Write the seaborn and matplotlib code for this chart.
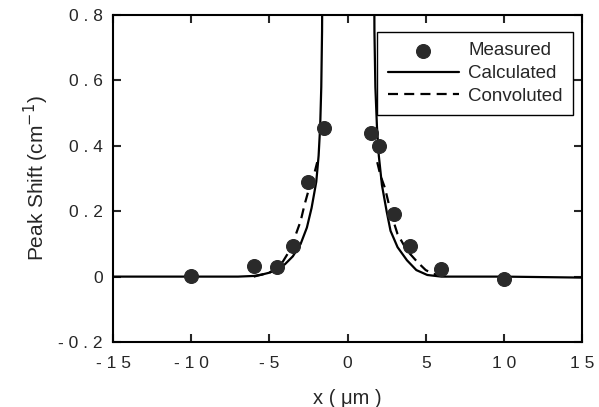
import numpy as np
import pandas as pd
import matplotlib
matplotlib.use("Agg")
import matplotlib.pyplot as plt
import seaborn as sns

# measured points
meas_x = [-10, -6.0, -4.5, -3.5, -2.5, -1.5, 1.5, 2.0, 3.0, 4.0, 6.0, 10]
meas_y = [0.003, 0.033, 0.030, 0.094, 0.29, 0.455, 0.44, 0.40, 0.19, 0.094, 0.024, -0.006]

# calculated curve
calc_x = [-15, -10, -7, -6, -5.5, -5, -4.5, -4, -3.5, -3, -2.6, -2.3, -2.0, -1.85, -1.75, -1.68, -1.63, -1.6]
calc_y = [0.0, 0.0, 0.0, 0.002, 0.006, 0.012, 0.022, 0.038, 0.062, 0.10, 0.15, 0.21, 0.29, 0.37, 0.46, 0.58, 0.75, 1.0]
calc_x_r = [1.7, 1.72, 1.78, 1.88, 2.0, 2.2, 2.5, 2.75, 3.2, 3.8, 4.4, 5.1, 6, 10, 15]
calc_y_r = [1.0, 0.75, 0.58, 0.46, 0.37, 0.28, 0.20, 0.14, 0.09, 0.05, 0.02, 0.005, 0.0, 0.0, -0.003]

# convoluted curve
conv_x = [-6, -5, -4.5, -4.15, -3.7, -3.3, -3.0, -2.75, -2.4, -2.1, -1.94]
conv_y = [0.0, 0.012, 0.028, 0.045, 0.08, 0.13, 0.17, 0.22, 0.28, 0.32, 0.35]
conv_x_r = [1.9, 2.1, 2.4, 2.8, 3.2, 3.8, 4.46, 5.0, 5.5, 6.5]
conv_y_r = [0.35, 0.31, 0.27, 0.19, 0.13, 0.08, 0.045, 0.02, 0.008, 0.0]

xticks = [-15, -10, -5, 0, 5, 10, 15]
xticklabels = ["- 1 5", "- 1 0", "- 5", "0", "5", "1 0", "1 5"]
yticks = [-0.2, 0, 0.2, 0.4, 0.6, 0.8]
yticklabels = ["- 0 . 2", "0", "0 . 2", "0 . 4", "0 . 6", "0 . 8"]

sns.set_style("ticks")
plt.rcParams['font.family'] = ['Liberation Sans', 'DejaVu Sans']

fig = plt.figure(figsize=(5.99, 4.07), dpi=100)
ax = fig.add_axes([0.1887, 0.1597, 0.783, 0.8033])

meas = pd.DataFrame({"x": meas_x, "y": meas_y})
calc_l = pd.DataFrame({"x": calc_x, "y": calc_y})
calc_r = pd.DataFrame({"x": calc_x_r, "y": calc_y_r})
conv_l = pd.DataFrame({"x": conv_x, "y": conv_y})
conv_r = pd.DataFrame({"x": conv_x_r, "y": conv_y_r})

dash = (0, (4.5, 2.8))
sns.lineplot(data=calc_l, x="x", y="y", sort=False, color="black", lw=1.6, ax=ax, label="Calculated")
sns.lineplot(data=calc_r, x="x", y="y", sort=False, color="black", lw=1.6, ax=ax)
sns.lineplot(data=conv_l, x="x", y="y", sort=False, color="black", lw=1.6, ax=ax,
             linestyle=dash, label="Convoluted")
sns.lineplot(data=conv_r, x="x", y="y", sort=False, color="black", lw=1.6, ax=ax,
             linestyle=dash)
sns.scatterplot(data=meas, x="x", y="y", s=100, color="#2a2a2a", edgecolor="#2a2a2a",
                ax=ax, label="Measured", zorder=5)

ax.set_xlim(-15, 15)
ax.set_ylim(-0.2, 0.8)
ax.set_xticks(xticks)
ax.set_xticklabels(xticklabels, fontsize=12.5)
ax.set_yticks(yticks)
ax.set_yticklabels(yticklabels, fontsize=12.5)
ax.tick_params(axis="x", direction="in", length=6, width=1.5, top=True, pad=10)
ax.tick_params(axis="y", direction="in", length=6, width=1.5, right=True, pad=7.5)
for sp in ax.spines.values():
    sp.set_linewidth(1.5)
    sp.set_color("black")

ax.set_xlabel("x ( μm )", fontsize=14.5, labelpad=13)
ax.set_ylabel("Peak Shift (cm$^{-1}$)", fontsize=15, labelpad=5)

h, l = ax.get_legend_handles_labels()
order = [l.index("Measured"), l.index("Calculated"), l.index("Convoluted")]
leg = ax.legend([h[i] for i in order], [l[i] for i in order],
                loc="upper right", bbox_to_anchor=(0.981, 0.948), fontsize=13.5,
                frameon=True, fancybox=False, framealpha=1, edgecolor="black",
                handlelength=3.8, borderpad=0.55, labelspacing=0.3, handletextpad=0.5,
                borderaxespad=0)
leg.get_frame().set_linewidth(1.0)

fig.savefig("out.png", dpi=100)
